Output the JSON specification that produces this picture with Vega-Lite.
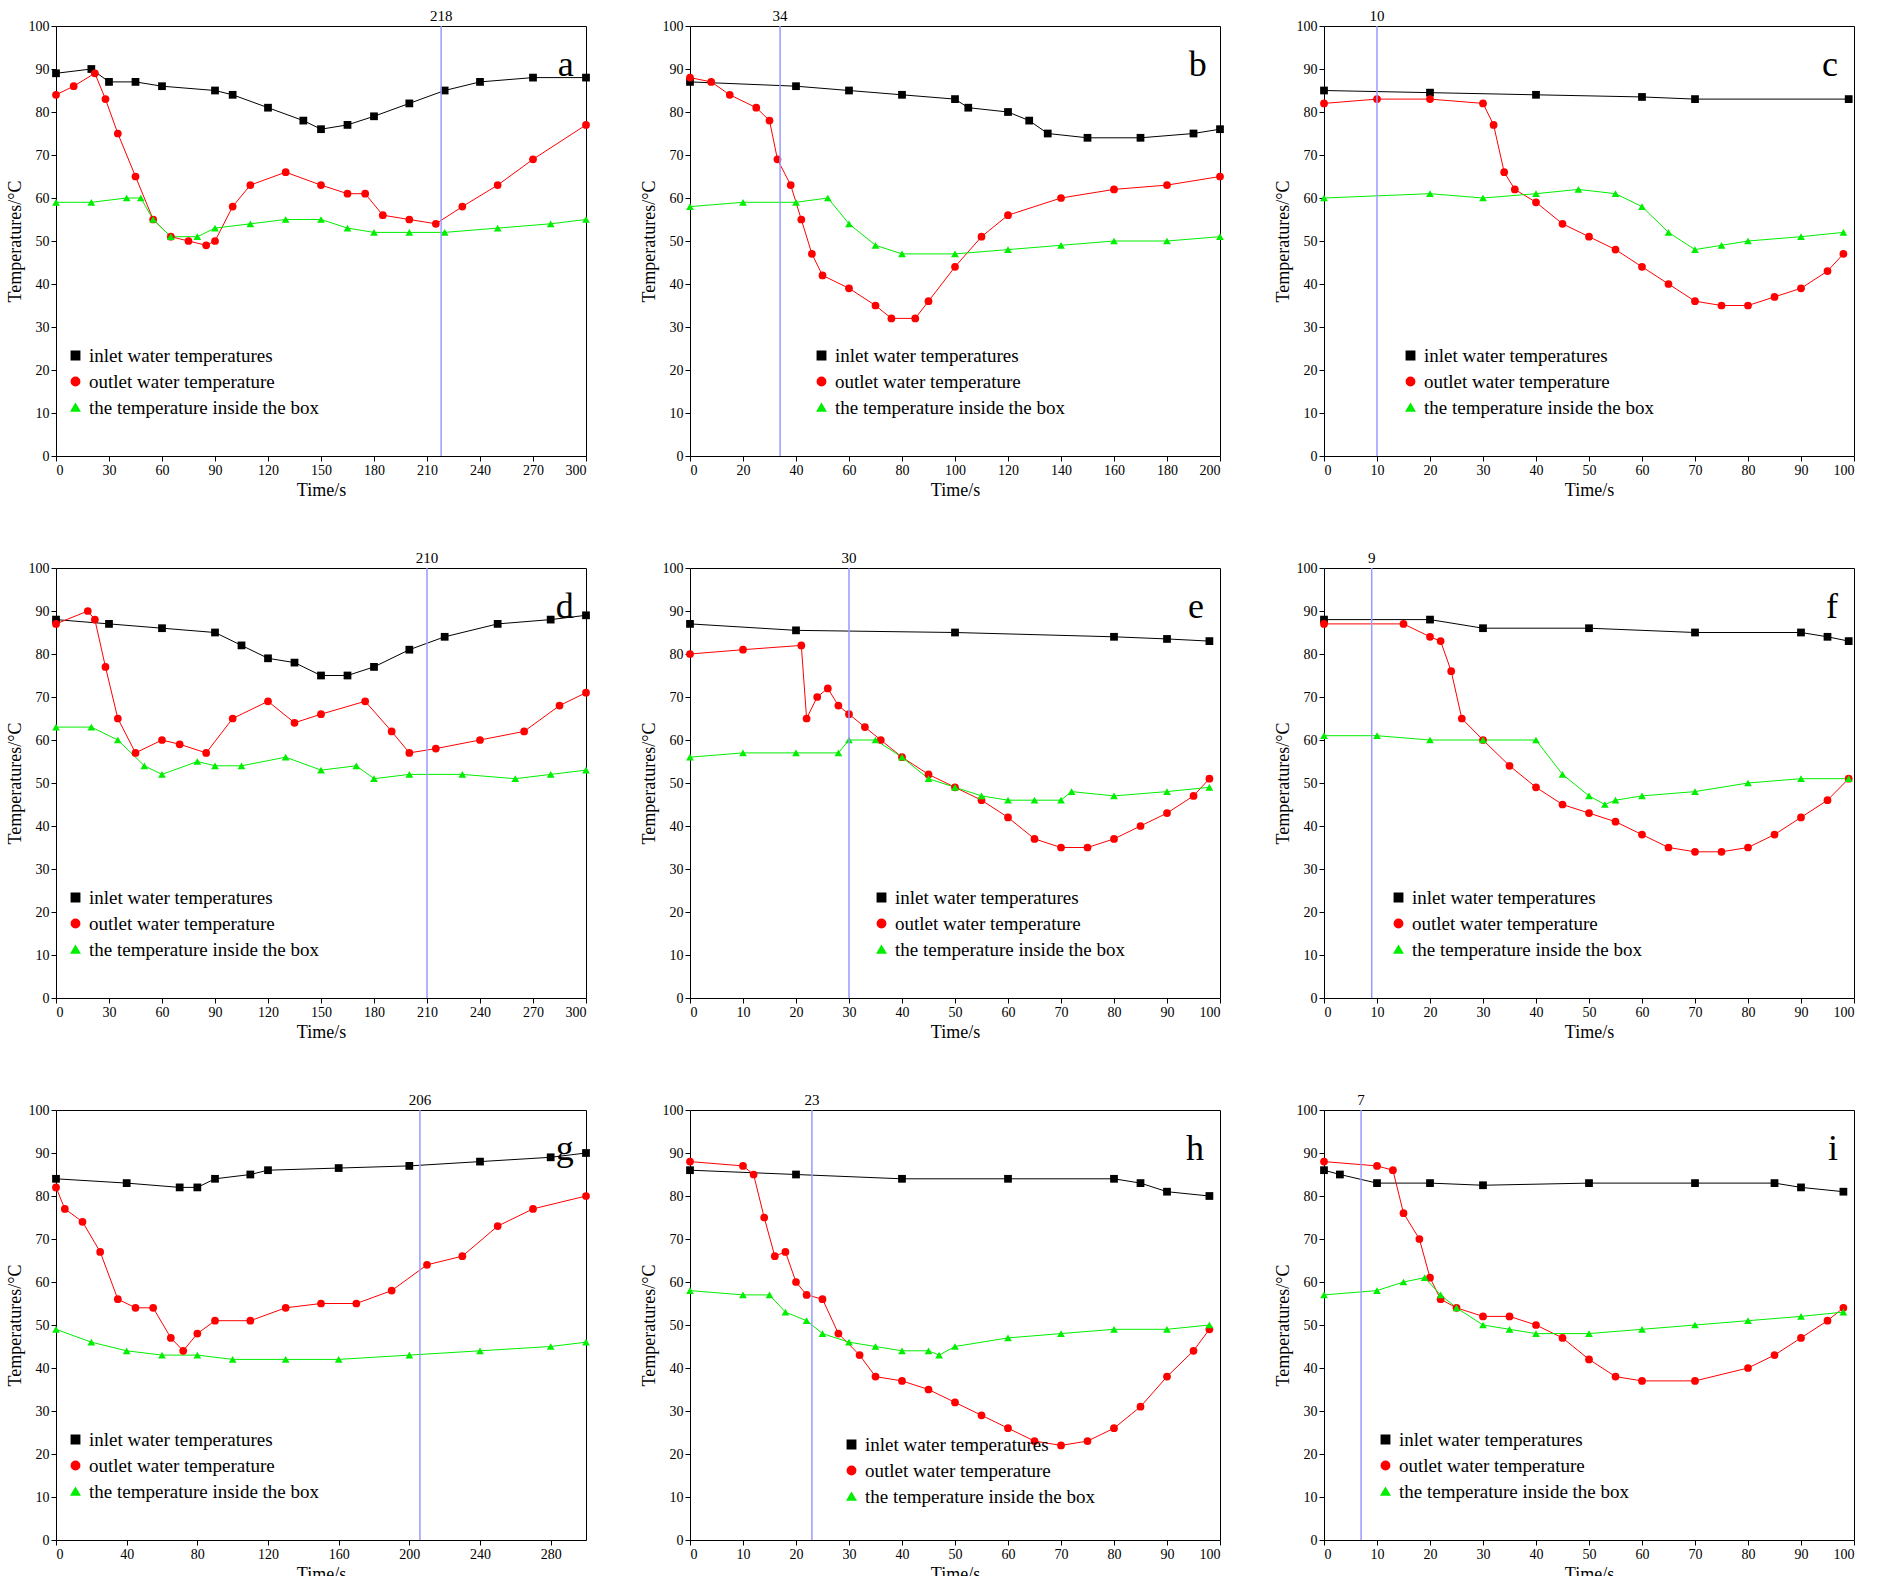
{
"$schema":"https://vega.github.io/schema/vega-lite/v6.json",
"background":"white",
"padding":{"left":5,"top":8,"right":5,"bottom":5},
"config":{"font":"Liberation Serif","view":{"stroke":"black","strokeWidth":1},
"axis":{"grid":false,"domain":false,"labelFont":"Liberation Serif","titleFont":"Liberation Serif","labelFontSize":14,"titleFontSize":18,"titleFontWeight":"normal","tickColor":"black","labelColor":"black","titleColor":"black"},
"legend":{"labelFont":"Liberation Serif","labelFontSize":19,"symbolSize":70,"rowPadding":6,"labelColor":"black","labelLimit":400}},
"spacing":{"row":50,"column":48},
"columns":3,
"resolve":{"scale":{"color":"independent","shape":"independent","x":"independent"}},
"datasets":{
"a":[{"t":0,"v":89,"s":"in"},{"t":20,"v":90,"s":"in"},{"t":30,"v":87,"s":"in"},{"t":45,"v":87,"s":"in"},{"t":60,"v":86,"s":"in"},{"t":90,"v":85,"s":"in"},{"t":100,"v":84,"s":"in"},{"t":120,"v":81,"s":"in"},{"t":140,"v":78,"s":"in"},{"t":150,"v":76,"s":"in"},{"t":165,"v":77,"s":"in"},{"t":180,"v":79,"s":"in"},{"t":200,"v":82,"s":"in"},{"t":220,"v":85,"s":"in"},{"t":240,"v":87,"s":"in"},{"t":270,"v":88,"s":"in"},{"t":300,"v":88,"s":"in"},
{"t":0,"v":84,"s":"out"},{"t":10,"v":86,"s":"out"},{"t":22,"v":89,"s":"out"},{"t":28,"v":83,"s":"out"},{"t":35,"v":75,"s":"out"},{"t":45,"v":65,"s":"out"},{"t":55,"v":55,"s":"out"},{"t":65,"v":51,"s":"out"},{"t":75,"v":50,"s":"out"},{"t":85,"v":49,"s":"out"},{"t":90,"v":50,"s":"out"},{"t":100,"v":58,"s":"out"},{"t":110,"v":63,"s":"out"},{"t":130,"v":66,"s":"out"},{"t":150,"v":63,"s":"out"},{"t":165,"v":61,"s":"out"},{"t":175,"v":61,"s":"out"},{"t":185,"v":56,"s":"out"},{"t":200,"v":55,"s":"out"},{"t":215,"v":54,"s":"out"},{"t":230,"v":58,"s":"out"},{"t":250,"v":63,"s":"out"},{"t":270,"v":69,"s":"out"},{"t":300,"v":77,"s":"out"},
{"t":0,"v":59,"s":"box"},{"t":20,"v":59,"s":"box"},{"t":40,"v":60,"s":"box"},{"t":48,"v":60,"s":"box"},{"t":55,"v":55,"s":"box"},{"t":65,"v":51,"s":"box"},{"t":80,"v":51,"s":"box"},{"t":90,"v":53,"s":"box"},{"t":110,"v":54,"s":"box"},{"t":130,"v":55,"s":"box"},{"t":150,"v":55,"s":"box"},{"t":165,"v":53,"s":"box"},{"t":180,"v":52,"s":"box"},{"t":200,"v":52,"s":"box"},{"t":220,"v":52,"s":"box"},{"t":250,"v":53,"s":"box"},{"t":280,"v":54,"s":"box"},{"t":300,"v":55,"s":"box"}],
"b":[{"t":0,"v":87,"s":"in"},{"t":40,"v":86,"s":"in"},{"t":60,"v":85,"s":"in"},{"t":80,"v":84,"s":"in"},{"t":100,"v":83,"s":"in"},{"t":105,"v":81,"s":"in"},{"t":120,"v":80,"s":"in"},{"t":128,"v":78,"s":"in"},{"t":135,"v":75,"s":"in"},{"t":150,"v":74,"s":"in"},{"t":170,"v":74,"s":"in"},{"t":190,"v":75,"s":"in"},{"t":200,"v":76,"s":"in"},
{"t":0,"v":88,"s":"out"},{"t":8,"v":87,"s":"out"},{"t":15,"v":84,"s":"out"},{"t":25,"v":81,"s":"out"},{"t":30,"v":78,"s":"out"},{"t":33,"v":69,"s":"out"},{"t":38,"v":63,"s":"out"},{"t":42,"v":55,"s":"out"},{"t":46,"v":47,"s":"out"},{"t":50,"v":42,"s":"out"},{"t":60,"v":39,"s":"out"},{"t":70,"v":35,"s":"out"},{"t":76,"v":32,"s":"out"},{"t":85,"v":32,"s":"out"},{"t":90,"v":36,"s":"out"},{"t":100,"v":44,"s":"out"},{"t":110,"v":51,"s":"out"},{"t":120,"v":56,"s":"out"},{"t":140,"v":60,"s":"out"},{"t":160,"v":62,"s":"out"},{"t":180,"v":63,"s":"out"},{"t":200,"v":65,"s":"out"},
{"t":0,"v":58,"s":"box"},{"t":20,"v":59,"s":"box"},{"t":40,"v":59,"s":"box"},{"t":52,"v":60,"s":"box"},{"t":60,"v":54,"s":"box"},{"t":70,"v":49,"s":"box"},{"t":80,"v":47,"s":"box"},{"t":100,"v":47,"s":"box"},{"t":120,"v":48,"s":"box"},{"t":140,"v":49,"s":"box"},{"t":160,"v":50,"s":"box"},{"t":180,"v":50,"s":"box"},{"t":200,"v":51,"s":"box"}],
"c":[{"t":0,"v":85,"s":"in"},{"t":20,"v":84.5,"s":"in"},{"t":40,"v":84,"s":"in"},{"t":60,"v":83.5,"s":"in"},{"t":70,"v":83,"s":"in"},{"t":99,"v":83,"s":"in"},
{"t":0,"v":82,"s":"out"},{"t":10,"v":83,"s":"out"},{"t":20,"v":83,"s":"out"},{"t":30,"v":82,"s":"out"},{"t":32,"v":77,"s":"out"},{"t":34,"v":66,"s":"out"},{"t":36,"v":62,"s":"out"},{"t":40,"v":59,"s":"out"},{"t":45,"v":54,"s":"out"},{"t":50,"v":51,"s":"out"},{"t":55,"v":48,"s":"out"},{"t":60,"v":44,"s":"out"},{"t":65,"v":40,"s":"out"},{"t":70,"v":36,"s":"out"},{"t":75,"v":35,"s":"out"},{"t":80,"v":35,"s":"out"},{"t":85,"v":37,"s":"out"},{"t":90,"v":39,"s":"out"},{"t":95,"v":43,"s":"out"},{"t":98,"v":47,"s":"out"},
{"t":0,"v":60,"s":"box"},{"t":20,"v":61,"s":"box"},{"t":30,"v":60,"s":"box"},{"t":40,"v":61,"s":"box"},{"t":48,"v":62,"s":"box"},{"t":55,"v":61,"s":"box"},{"t":60,"v":58,"s":"box"},{"t":65,"v":52,"s":"box"},{"t":70,"v":48,"s":"box"},{"t":75,"v":49,"s":"box"},{"t":80,"v":50,"s":"box"},{"t":90,"v":51,"s":"box"},{"t":98,"v":52,"s":"box"}],
"d":[{"t":0,"v":88,"s":"in"},{"t":30,"v":87,"s":"in"},{"t":60,"v":86,"s":"in"},{"t":90,"v":85,"s":"in"},{"t":105,"v":82,"s":"in"},{"t":120,"v":79,"s":"in"},{"t":135,"v":78,"s":"in"},{"t":150,"v":75,"s":"in"},{"t":165,"v":75,"s":"in"},{"t":180,"v":77,"s":"in"},{"t":200,"v":81,"s":"in"},{"t":220,"v":84,"s":"in"},{"t":250,"v":87,"s":"in"},{"t":280,"v":88,"s":"in"},{"t":300,"v":89,"s":"in"},
{"t":0,"v":87,"s":"out"},{"t":18,"v":90,"s":"out"},{"t":22,"v":88,"s":"out"},{"t":28,"v":77,"s":"out"},{"t":35,"v":65,"s":"out"},{"t":45,"v":57,"s":"out"},{"t":60,"v":60,"s":"out"},{"t":70,"v":59,"s":"out"},{"t":85,"v":57,"s":"out"},{"t":100,"v":65,"s":"out"},{"t":120,"v":69,"s":"out"},{"t":135,"v":64,"s":"out"},{"t":150,"v":66,"s":"out"},{"t":175,"v":69,"s":"out"},{"t":190,"v":62,"s":"out"},{"t":200,"v":57,"s":"out"},{"t":215,"v":58,"s":"out"},{"t":240,"v":60,"s":"out"},{"t":265,"v":62,"s":"out"},{"t":285,"v":68,"s":"out"},{"t":300,"v":71,"s":"out"},
{"t":0,"v":63,"s":"box"},{"t":20,"v":63,"s":"box"},{"t":35,"v":60,"s":"box"},{"t":50,"v":54,"s":"box"},{"t":60,"v":52,"s":"box"},{"t":80,"v":55,"s":"box"},{"t":90,"v":54,"s":"box"},{"t":105,"v":54,"s":"box"},{"t":130,"v":56,"s":"box"},{"t":150,"v":53,"s":"box"},{"t":170,"v":54,"s":"box"},{"t":180,"v":51,"s":"box"},{"t":200,"v":52,"s":"box"},{"t":230,"v":52,"s":"box"},{"t":260,"v":51,"s":"box"},{"t":280,"v":52,"s":"box"},{"t":300,"v":53,"s":"box"}],
"e":[{"t":0,"v":87,"s":"in"},{"t":20,"v":85.5,"s":"in"},{"t":50,"v":85,"s":"in"},{"t":80,"v":84,"s":"in"},{"t":90,"v":83.5,"s":"in"},{"t":98,"v":83,"s":"in"},
{"t":0,"v":80,"s":"out"},{"t":10,"v":81,"s":"out"},{"t":21,"v":82,"s":"out"},{"t":22,"v":65,"s":"out"},{"t":24,"v":70,"s":"out"},{"t":26,"v":72,"s":"out"},{"t":28,"v":68,"s":"out"},{"t":30,"v":66,"s":"out"},{"t":33,"v":63,"s":"out"},{"t":36,"v":60,"s":"out"},{"t":40,"v":56,"s":"out"},{"t":45,"v":52,"s":"out"},{"t":50,"v":49,"s":"out"},{"t":55,"v":46,"s":"out"},{"t":60,"v":42,"s":"out"},{"t":65,"v":37,"s":"out"},{"t":70,"v":35,"s":"out"},{"t":75,"v":35,"s":"out"},{"t":80,"v":37,"s":"out"},{"t":85,"v":40,"s":"out"},{"t":90,"v":43,"s":"out"},{"t":95,"v":47,"s":"out"},{"t":98,"v":51,"s":"out"},
{"t":0,"v":56,"s":"box"},{"t":10,"v":57,"s":"box"},{"t":20,"v":57,"s":"box"},{"t":28,"v":57,"s":"box"},{"t":30,"v":60,"s":"box"},{"t":35,"v":60,"s":"box"},{"t":40,"v":56,"s":"box"},{"t":45,"v":51,"s":"box"},{"t":50,"v":49,"s":"box"},{"t":55,"v":47,"s":"box"},{"t":60,"v":46,"s":"box"},{"t":65,"v":46,"s":"box"},{"t":70,"v":46,"s":"box"},{"t":72,"v":48,"s":"box"},{"t":80,"v":47,"s":"box"},{"t":90,"v":48,"s":"box"},{"t":98,"v":49,"s":"box"}],
"f":[{"t":0,"v":88,"s":"in"},{"t":20,"v":88,"s":"in"},{"t":30,"v":86,"s":"in"},{"t":50,"v":86,"s":"in"},{"t":70,"v":85,"s":"in"},{"t":90,"v":85,"s":"in"},{"t":95,"v":84,"s":"in"},{"t":99,"v":83,"s":"in"},
{"t":0,"v":87,"s":"out"},{"t":15,"v":87,"s":"out"},{"t":20,"v":84,"s":"out"},{"t":22,"v":83,"s":"out"},{"t":24,"v":76,"s":"out"},{"t":26,"v":65,"s":"out"},{"t":30,"v":60,"s":"out"},{"t":35,"v":54,"s":"out"},{"t":40,"v":49,"s":"out"},{"t":45,"v":45,"s":"out"},{"t":50,"v":43,"s":"out"},{"t":55,"v":41,"s":"out"},{"t":60,"v":38,"s":"out"},{"t":65,"v":35,"s":"out"},{"t":70,"v":34,"s":"out"},{"t":75,"v":34,"s":"out"},{"t":80,"v":35,"s":"out"},{"t":85,"v":38,"s":"out"},{"t":90,"v":42,"s":"out"},{"t":95,"v":46,"s":"out"},{"t":99,"v":51,"s":"out"},
{"t":0,"v":61,"s":"box"},{"t":10,"v":61,"s":"box"},{"t":20,"v":60,"s":"box"},{"t":30,"v":60,"s":"box"},{"t":40,"v":60,"s":"box"},{"t":45,"v":52,"s":"box"},{"t":50,"v":47,"s":"box"},{"t":53,"v":45,"s":"box"},{"t":55,"v":46,"s":"box"},{"t":60,"v":47,"s":"box"},{"t":70,"v":48,"s":"box"},{"t":80,"v":50,"s":"box"},{"t":90,"v":51,"s":"box"},{"t":99,"v":51,"s":"box"}],
"g":[{"t":0,"v":84,"s":"in"},{"t":40,"v":83,"s":"in"},{"t":70,"v":82,"s":"in"},{"t":80,"v":82,"s":"in"},{"t":90,"v":84,"s":"in"},{"t":110,"v":85,"s":"in"},{"t":120,"v":86,"s":"in"},{"t":160,"v":86.5,"s":"in"},{"t":200,"v":87,"s":"in"},{"t":240,"v":88,"s":"in"},{"t":280,"v":89,"s":"in"},{"t":300,"v":90,"s":"in"},
{"t":0,"v":82,"s":"out"},{"t":5,"v":77,"s":"out"},{"t":15,"v":74,"s":"out"},{"t":25,"v":67,"s":"out"},{"t":35,"v":56,"s":"out"},{"t":45,"v":54,"s":"out"},{"t":55,"v":54,"s":"out"},{"t":65,"v":47,"s":"out"},{"t":72,"v":44,"s":"out"},{"t":80,"v":48,"s":"out"},{"t":90,"v":51,"s":"out"},{"t":110,"v":51,"s":"out"},{"t":130,"v":54,"s":"out"},{"t":150,"v":55,"s":"out"},{"t":170,"v":55,"s":"out"},{"t":190,"v":58,"s":"out"},{"t":210,"v":64,"s":"out"},{"t":230,"v":66,"s":"out"},{"t":250,"v":73,"s":"out"},{"t":270,"v":77,"s":"out"},{"t":300,"v":80,"s":"out"},
{"t":0,"v":49,"s":"box"},{"t":20,"v":46,"s":"box"},{"t":40,"v":44,"s":"box"},{"t":60,"v":43,"s":"box"},{"t":80,"v":43,"s":"box"},{"t":100,"v":42,"s":"box"},{"t":130,"v":42,"s":"box"},{"t":160,"v":42,"s":"box"},{"t":200,"v":43,"s":"box"},{"t":240,"v":44,"s":"box"},{"t":280,"v":45,"s":"box"},{"t":300,"v":46,"s":"box"}],
"h":[{"t":0,"v":86,"s":"in"},{"t":20,"v":85,"s":"in"},{"t":40,"v":84,"s":"in"},{"t":60,"v":84,"s":"in"},{"t":80,"v":84,"s":"in"},{"t":85,"v":83,"s":"in"},{"t":90,"v":81,"s":"in"},{"t":98,"v":80,"s":"in"},
{"t":0,"v":88,"s":"out"},{"t":10,"v":87,"s":"out"},{"t":12,"v":85,"s":"out"},{"t":14,"v":75,"s":"out"},{"t":16,"v":66,"s":"out"},{"t":18,"v":67,"s":"out"},{"t":20,"v":60,"s":"out"},{"t":22,"v":57,"s":"out"},{"t":25,"v":56,"s":"out"},{"t":28,"v":48,"s":"out"},{"t":32,"v":43,"s":"out"},{"t":35,"v":38,"s":"out"},{"t":40,"v":37,"s":"out"},{"t":45,"v":35,"s":"out"},{"t":50,"v":32,"s":"out"},{"t":55,"v":29,"s":"out"},{"t":60,"v":26,"s":"out"},{"t":65,"v":23,"s":"out"},{"t":70,"v":22,"s":"out"},{"t":75,"v":23,"s":"out"},{"t":80,"v":26,"s":"out"},{"t":85,"v":31,"s":"out"},{"t":90,"v":38,"s":"out"},{"t":95,"v":44,"s":"out"},{"t":98,"v":49,"s":"out"},
{"t":0,"v":58,"s":"box"},{"t":10,"v":57,"s":"box"},{"t":15,"v":57,"s":"box"},{"t":18,"v":53,"s":"box"},{"t":22,"v":51,"s":"box"},{"t":25,"v":48,"s":"box"},{"t":30,"v":46,"s":"box"},{"t":35,"v":45,"s":"box"},{"t":40,"v":44,"s":"box"},{"t":45,"v":44,"s":"box"},{"t":47,"v":43,"s":"box"},{"t":50,"v":45,"s":"box"},{"t":60,"v":47,"s":"box"},{"t":70,"v":48,"s":"box"},{"t":80,"v":49,"s":"box"},{"t":90,"v":49,"s":"box"},{"t":98,"v":50,"s":"box"}],
"i":[{"t":0,"v":86,"s":"in"},{"t":3,"v":85,"s":"in"},{"t":10,"v":83,"s":"in"},{"t":20,"v":83,"s":"in"},{"t":30,"v":82.5,"s":"in"},{"t":50,"v":83,"s":"in"},{"t":70,"v":83,"s":"in"},{"t":85,"v":83,"s":"in"},{"t":90,"v":82,"s":"in"},{"t":98,"v":81,"s":"in"},
{"t":0,"v":88,"s":"out"},{"t":10,"v":87,"s":"out"},{"t":13,"v":86,"s":"out"},{"t":15,"v":76,"s":"out"},{"t":18,"v":70,"s":"out"},{"t":20,"v":61,"s":"out"},{"t":22,"v":56,"s":"out"},{"t":25,"v":54,"s":"out"},{"t":30,"v":52,"s":"out"},{"t":35,"v":52,"s":"out"},{"t":40,"v":50,"s":"out"},{"t":45,"v":47,"s":"out"},{"t":50,"v":42,"s":"out"},{"t":55,"v":38,"s":"out"},{"t":60,"v":37,"s":"out"},{"t":70,"v":37,"s":"out"},{"t":80,"v":40,"s":"out"},{"t":85,"v":43,"s":"out"},{"t":90,"v":47,"s":"out"},{"t":95,"v":51,"s":"out"},{"t":98,"v":54,"s":"out"},
{"t":0,"v":57,"s":"box"},{"t":10,"v":58,"s":"box"},{"t":15,"v":60,"s":"box"},{"t":19,"v":61,"s":"box"},{"t":22,"v":57,"s":"box"},{"t":25,"v":54,"s":"box"},{"t":30,"v":50,"s":"box"},{"t":35,"v":49,"s":"box"},{"t":40,"v":48,"s":"box"},{"t":50,"v":48,"s":"box"},{"t":60,"v":49,"s":"box"},{"t":70,"v":50,"s":"box"},{"t":80,"v":51,"s":"box"},{"t":90,"v":52,"s":"box"},{"t":98,"v":53,"s":"box"}]
},
"concat":[
{"width":530,"height":430,"layer":[
{"data":{"name":"a"},"mark":{"type":"line","strokeWidth":1},"encoding":{"x":{"field":"t","type":"quantitative","scale":{"domain":[0,300],"nice":false},"axis":{"values":[0,30,60,90,120,150,180,210,240,270,300],"title":"Time/s"}},"y":{"field":"v","type":"quantitative","scale":{"domain":[0,100]},"axis":{"values":[0,10,20,30,40,50,60,70,80,90,100],"title":"Temperatures/°C"}},"color":{"field":"s","type":"nominal","scale":{"domain":["in","out","box"],"range":["black","#ff0000","#00ee00"]},"legend":{"orient":"none","legendX":10,"legendY":320,"title":null,"labelExpr":"datum.label=='in'?'inlet water temperatures':datum.label=='out'?'outlet water temperature':'the temperature inside the box'"}}}},
{"data":{"name":"a"},"mark":{"type":"point","filled":true,"size":60,"opacity":1},"encoding":{"x":{"field":"t","type":"quantitative"},"y":{"field":"v","type":"quantitative"},"color":{"field":"s","type":"nominal","scale":{"domain":["in","out","box"],"range":["black","#ff0000","#00ee00"]},"legend":{"orient":"none","legendX":10,"legendY":320,"title":null,"labelExpr":"datum.label=='in'?'inlet water temperatures':datum.label=='out'?'outlet water temperature':'the temperature inside the box'"}},"shape":{"field":"s","type":"nominal","scale":{"domain":["in","out","box"],"range":["square","circle","triangle-up"]},"legend":{"orient":"none","legendX":10,"legendY":320,"title":null,"labelExpr":"datum.label=='in'?'inlet water temperatures':datum.label=='out'?'outlet water temperature':'the temperature inside the box'"}}}},
{"data":{"values":[{"t":218}]},"mark":{"type":"rule","color":"#9999ff","strokeWidth":1.5},"encoding":{"x":{"field":"t","type":"quantitative"}}},
{"data":{"values":[{"t":218}]},"mark":{"type":"text","dy":-2,"fontSize":15,"baseline":"bottom"},"encoding":{"x":{"field":"t","type":"quantitative"},"y":{"datum":100},"text":{"field":"t"}}},
{"data":{"values":[{"p":"a","t":293}]},"mark":{"type":"text","fontSize":36,"align":"right","baseline":"middle"},"encoding":{"x":{"field":"t","type":"quantitative"},"y":{"datum":91},"text":{"field":"p"}}}]},
{"width":530,"height":430,"layer":[
{"data":{"name":"b"},"mark":{"type":"line","strokeWidth":1},"encoding":{"x":{"field":"t","type":"quantitative","scale":{"domain":[0,200],"nice":false},"axis":{"values":[0,20,40,60,80,100,120,140,160,180,200],"title":"Time/s"}},"y":{"field":"v","type":"quantitative","scale":{"domain":[0,100]},"axis":{"values":[0,10,20,30,40,50,60,70,80,90,100],"title":"Temperatures/°C"}},"color":{"field":"s","type":"nominal","scale":{"domain":["in","out","box"],"range":["black","#ff0000","#00ee00"]},"legend":{"orient":"none","legendX":122,"legendY":320,"title":null,"labelExpr":"datum.label=='in'?'inlet water temperatures':datum.label=='out'?'outlet water temperature':'the temperature inside the box'"}}}},
{"data":{"name":"b"},"mark":{"type":"point","filled":true,"size":60,"opacity":1},"encoding":{"x":{"field":"t","type":"quantitative"},"y":{"field":"v","type":"quantitative"},"color":{"field":"s","type":"nominal","scale":{"domain":["in","out","box"],"range":["black","#ff0000","#00ee00"]},"legend":{"orient":"none","legendX":122,"legendY":320,"title":null,"labelExpr":"datum.label=='in'?'inlet water temperatures':datum.label=='out'?'outlet water temperature':'the temperature inside the box'"}},"shape":{"field":"s","type":"nominal","scale":{"domain":["in","out","box"],"range":["square","circle","triangle-up"]},"legend":{"orient":"none","legendX":122,"legendY":320,"title":null,"labelExpr":"datum.label=='in'?'inlet water temperatures':datum.label=='out'?'outlet water temperature':'the temperature inside the box'"}}}},
{"data":{"values":[{"t":34}]},"mark":{"type":"rule","color":"#9999ff","strokeWidth":1.5},"encoding":{"x":{"field":"t","type":"quantitative"}}},
{"data":{"values":[{"t":34}]},"mark":{"type":"text","dy":-2,"fontSize":15,"baseline":"bottom"},"encoding":{"x":{"field":"t","type":"quantitative"},"y":{"datum":100},"text":{"field":"t"}}},
{"data":{"values":[{"p":"b","t":195}]},"mark":{"type":"text","fontSize":36,"align":"right","baseline":"middle"},"encoding":{"x":{"field":"t","type":"quantitative"},"y":{"datum":91},"text":{"field":"p"}}}]},
{"width":530,"height":430,"layer":[
{"data":{"name":"c"},"mark":{"type":"line","strokeWidth":1},"encoding":{"x":{"field":"t","type":"quantitative","scale":{"domain":[0,100],"nice":false},"axis":{"values":[0,10,20,30,40,50,60,70,80,90,100],"title":"Time/s"}},"y":{"field":"v","type":"quantitative","scale":{"domain":[0,100]},"axis":{"values":[0,10,20,30,40,50,60,70,80,90,100],"title":"Temperatures/°C"}},"color":{"field":"s","type":"nominal","scale":{"domain":["in","out","box"],"range":["black","#ff0000","#00ee00"]},"legend":{"orient":"none","legendX":77,"legendY":320,"title":null,"labelExpr":"datum.label=='in'?'inlet water temperatures':datum.label=='out'?'outlet water temperature':'the temperature inside the box'"}}}},
{"data":{"name":"c"},"mark":{"type":"point","filled":true,"size":60,"opacity":1},"encoding":{"x":{"field":"t","type":"quantitative"},"y":{"field":"v","type":"quantitative"},"color":{"field":"s","type":"nominal","scale":{"domain":["in","out","box"],"range":["black","#ff0000","#00ee00"]},"legend":{"orient":"none","legendX":77,"legendY":320,"title":null,"labelExpr":"datum.label=='in'?'inlet water temperatures':datum.label=='out'?'outlet water temperature':'the temperature inside the box'"}},"shape":{"field":"s","type":"nominal","scale":{"domain":["in","out","box"],"range":["square","circle","triangle-up"]},"legend":{"orient":"none","legendX":77,"legendY":320,"title":null,"labelExpr":"datum.label=='in'?'inlet water temperatures':datum.label=='out'?'outlet water temperature':'the temperature inside the box'"}}}},
{"data":{"values":[{"t":10}]},"mark":{"type":"rule","color":"#9999ff","strokeWidth":1.5},"encoding":{"x":{"field":"t","type":"quantitative"}}},
{"data":{"values":[{"t":10}]},"mark":{"type":"text","dy":-2,"fontSize":15,"baseline":"bottom"},"encoding":{"x":{"field":"t","type":"quantitative"},"y":{"datum":100},"text":{"field":"t"}}},
{"data":{"values":[{"p":"c","t":97}]},"mark":{"type":"text","fontSize":36,"align":"right","baseline":"middle"},"encoding":{"x":{"field":"t","type":"quantitative"},"y":{"datum":91},"text":{"field":"p"}}}]},
{"width":530,"height":430,"layer":[
{"data":{"name":"d"},"mark":{"type":"line","strokeWidth":1},"encoding":{"x":{"field":"t","type":"quantitative","scale":{"domain":[0,300],"nice":false},"axis":{"values":[0,30,60,90,120,150,180,210,240,270,300],"title":"Time/s"}},"y":{"field":"v","type":"quantitative","scale":{"domain":[0,100]},"axis":{"values":[0,10,20,30,40,50,60,70,80,90,100],"title":"Temperatures/°C"}},"color":{"field":"s","type":"nominal","scale":{"domain":["in","out","box"],"range":["black","#ff0000","#00ee00"]},"legend":{"orient":"none","legendX":10,"legendY":320,"title":null,"labelExpr":"datum.label=='in'?'inlet water temperatures':datum.label=='out'?'outlet water temperature':'the temperature inside the box'"}}}},
{"data":{"name":"d"},"mark":{"type":"point","filled":true,"size":60,"opacity":1},"encoding":{"x":{"field":"t","type":"quantitative"},"y":{"field":"v","type":"quantitative"},"color":{"field":"s","type":"nominal","scale":{"domain":["in","out","box"],"range":["black","#ff0000","#00ee00"]},"legend":{"orient":"none","legendX":10,"legendY":320,"title":null,"labelExpr":"datum.label=='in'?'inlet water temperatures':datum.label=='out'?'outlet water temperature':'the temperature inside the box'"}},"shape":{"field":"s","type":"nominal","scale":{"domain":["in","out","box"],"range":["square","circle","triangle-up"]},"legend":{"orient":"none","legendX":10,"legendY":320,"title":null,"labelExpr":"datum.label=='in'?'inlet water temperatures':datum.label=='out'?'outlet water temperature':'the temperature inside the box'"}}}},
{"data":{"values":[{"t":210}]},"mark":{"type":"rule","color":"#9999ff","strokeWidth":1.5},"encoding":{"x":{"field":"t","type":"quantitative"}}},
{"data":{"values":[{"t":210}]},"mark":{"type":"text","dy":-2,"fontSize":15,"baseline":"bottom"},"encoding":{"x":{"field":"t","type":"quantitative"},"y":{"datum":100},"text":{"field":"t"}}},
{"data":{"values":[{"p":"d","t":293}]},"mark":{"type":"text","fontSize":36,"align":"right","baseline":"middle"},"encoding":{"x":{"field":"t","type":"quantitative"},"y":{"datum":91},"text":{"field":"p"}}}]},
{"width":530,"height":430,"layer":[
{"data":{"name":"e"},"mark":{"type":"line","strokeWidth":1},"encoding":{"x":{"field":"t","type":"quantitative","scale":{"domain":[0,100],"nice":false},"axis":{"values":[0,10,20,30,40,50,60,70,80,90,100],"title":"Time/s"}},"y":{"field":"v","type":"quantitative","scale":{"domain":[0,100]},"axis":{"values":[0,10,20,30,40,50,60,70,80,90,100],"title":"Temperatures/°C"}},"color":{"field":"s","type":"nominal","scale":{"domain":["in","out","box"],"range":["black","#ff0000","#00ee00"]},"legend":{"orient":"none","legendX":182,"legendY":320,"title":null,"labelExpr":"datum.label=='in'?'inlet water temperatures':datum.label=='out'?'outlet water temperature':'the temperature inside the box'"}}}},
{"data":{"name":"e"},"mark":{"type":"point","filled":true,"size":60,"opacity":1},"encoding":{"x":{"field":"t","type":"quantitative"},"y":{"field":"v","type":"quantitative"},"color":{"field":"s","type":"nominal","scale":{"domain":["in","out","box"],"range":["black","#ff0000","#00ee00"]},"legend":{"orient":"none","legendX":182,"legendY":320,"title":null,"labelExpr":"datum.label=='in'?'inlet water temperatures':datum.label=='out'?'outlet water temperature':'the temperature inside the box'"}},"shape":{"field":"s","type":"nominal","scale":{"domain":["in","out","box"],"range":["square","circle","triangle-up"]},"legend":{"orient":"none","legendX":182,"legendY":320,"title":null,"labelExpr":"datum.label=='in'?'inlet water temperatures':datum.label=='out'?'outlet water temperature':'the temperature inside the box'"}}}},
{"data":{"values":[{"t":30}]},"mark":{"type":"rule","color":"#9999ff","strokeWidth":1.5},"encoding":{"x":{"field":"t","type":"quantitative"}}},
{"data":{"values":[{"t":30}]},"mark":{"type":"text","dy":-2,"fontSize":15,"baseline":"bottom"},"encoding":{"x":{"field":"t","type":"quantitative"},"y":{"datum":100},"text":{"field":"t"}}},
{"data":{"values":[{"p":"e","t":97}]},"mark":{"type":"text","fontSize":36,"align":"right","baseline":"middle"},"encoding":{"x":{"field":"t","type":"quantitative"},"y":{"datum":91},"text":{"field":"p"}}}]},
{"width":530,"height":430,"layer":[
{"data":{"name":"f"},"mark":{"type":"line","strokeWidth":1},"encoding":{"x":{"field":"t","type":"quantitative","scale":{"domain":[0,100],"nice":false},"axis":{"values":[0,10,20,30,40,50,60,70,80,90,100],"title":"Time/s"}},"y":{"field":"v","type":"quantitative","scale":{"domain":[0,100]},"axis":{"values":[0,10,20,30,40,50,60,70,80,90,100],"title":"Temperatures/°C"}},"color":{"field":"s","type":"nominal","scale":{"domain":["in","out","box"],"range":["black","#ff0000","#00ee00"]},"legend":{"orient":"none","legendX":65,"legendY":320,"title":null,"labelExpr":"datum.label=='in'?'inlet water temperatures':datum.label=='out'?'outlet water temperature':'the temperature inside the box'"}}}},
{"data":{"name":"f"},"mark":{"type":"point","filled":true,"size":60,"opacity":1},"encoding":{"x":{"field":"t","type":"quantitative"},"y":{"field":"v","type":"quantitative"},"color":{"field":"s","type":"nominal","scale":{"domain":["in","out","box"],"range":["black","#ff0000","#00ee00"]},"legend":{"orient":"none","legendX":65,"legendY":320,"title":null,"labelExpr":"datum.label=='in'?'inlet water temperatures':datum.label=='out'?'outlet water temperature':'the temperature inside the box'"}},"shape":{"field":"s","type":"nominal","scale":{"domain":["in","out","box"],"range":["square","circle","triangle-up"]},"legend":{"orient":"none","legendX":65,"legendY":320,"title":null,"labelExpr":"datum.label=='in'?'inlet water temperatures':datum.label=='out'?'outlet water temperature':'the temperature inside the box'"}}}},
{"data":{"values":[{"t":9}]},"mark":{"type":"rule","color":"#9999ff","strokeWidth":1.5},"encoding":{"x":{"field":"t","type":"quantitative"}}},
{"data":{"values":[{"t":9}]},"mark":{"type":"text","dy":-2,"fontSize":15,"baseline":"bottom"},"encoding":{"x":{"field":"t","type":"quantitative"},"y":{"datum":100},"text":{"field":"t"}}},
{"data":{"values":[{"p":"f","t":97}]},"mark":{"type":"text","fontSize":36,"align":"right","baseline":"middle"},"encoding":{"x":{"field":"t","type":"quantitative"},"y":{"datum":91},"text":{"field":"p"}}}]},
{"width":530,"height":430,"layer":[
{"data":{"name":"g"},"mark":{"type":"line","strokeWidth":1},"encoding":{"x":{"field":"t","type":"quantitative","scale":{"domain":[0,300],"nice":false},"axis":{"values":[0,20,40,60,80,100,120,140,160,180,200,220,240,260,280,300],"title":"Time/s"}},"y":{"field":"v","type":"quantitative","scale":{"domain":[0,100]},"axis":{"values":[0,10,20,30,40,50,60,70,80,90,100],"title":"Temperatures/°C"}},"color":{"field":"s","type":"nominal","scale":{"domain":["in","out","box"],"range":["black","#ff0000","#00ee00"]},"legend":{"orient":"none","legendX":10,"legendY":320,"title":null,"labelExpr":"datum.label=='in'?'inlet water temperatures':datum.label=='out'?'outlet water temperature':'the temperature inside the box'"}}}},
{"data":{"name":"g"},"mark":{"type":"point","filled":true,"size":60,"opacity":1},"encoding":{"x":{"field":"t","type":"quantitative"},"y":{"field":"v","type":"quantitative"},"color":{"field":"s","type":"nominal","scale":{"domain":["in","out","box"],"range":["black","#ff0000","#00ee00"]},"legend":{"orient":"none","legendX":10,"legendY":320,"title":null,"labelExpr":"datum.label=='in'?'inlet water temperatures':datum.label=='out'?'outlet water temperature':'the temperature inside the box'"}},"shape":{"field":"s","type":"nominal","scale":{"domain":["in","out","box"],"range":["square","circle","triangle-up"]},"legend":{"orient":"none","legendX":10,"legendY":320,"title":null,"labelExpr":"datum.label=='in'?'inlet water temperatures':datum.label=='out'?'outlet water temperature':'the temperature inside the box'"}}}},
{"data":{"values":[{"t":206}]},"mark":{"type":"rule","color":"#9999ff","strokeWidth":1.5},"encoding":{"x":{"field":"t","type":"quantitative"}}},
{"data":{"values":[{"t":206}]},"mark":{"type":"text","dy":-2,"fontSize":15,"baseline":"bottom"},"encoding":{"x":{"field":"t","type":"quantitative"},"y":{"datum":100},"text":{"field":"t"}}},
{"data":{"values":[{"p":"g","t":293}]},"mark":{"type":"text","fontSize":36,"align":"right","baseline":"middle"},"encoding":{"x":{"field":"t","type":"quantitative"},"y":{"datum":91},"text":{"field":"p"}}}]},
{"width":530,"height":430,"layer":[
{"data":{"name":"h"},"mark":{"type":"line","strokeWidth":1},"encoding":{"x":{"field":"t","type":"quantitative","scale":{"domain":[0,100],"nice":false},"axis":{"values":[0,10,20,30,40,50,60,70,80,90,100],"title":"Time/s"}},"y":{"field":"v","type":"quantitative","scale":{"domain":[0,100]},"axis":{"values":[0,10,20,30,40,50,60,70,80,90,100],"title":"Temperatures/°C"}},"color":{"field":"s","type":"nominal","scale":{"domain":["in","out","box"],"range":["black","#ff0000","#00ee00"]},"legend":{"orient":"none","legendX":152,"legendY":325,"title":null,"labelExpr":"datum.label=='in'?'inlet water temperatures':datum.label=='out'?'outlet water temperature':'the temperature inside the box'"}}}},
{"data":{"name":"h"},"mark":{"type":"point","filled":true,"size":60,"opacity":1},"encoding":{"x":{"field":"t","type":"quantitative"},"y":{"field":"v","type":"quantitative"},"color":{"field":"s","type":"nominal","scale":{"domain":["in","out","box"],"range":["black","#ff0000","#00ee00"]},"legend":{"orient":"none","legendX":152,"legendY":325,"title":null,"labelExpr":"datum.label=='in'?'inlet water temperatures':datum.label=='out'?'outlet water temperature':'the temperature inside the box'"}},"shape":{"field":"s","type":"nominal","scale":{"domain":["in","out","box"],"range":["square","circle","triangle-up"]},"legend":{"orient":"none","legendX":152,"legendY":325,"title":null,"labelExpr":"datum.label=='in'?'inlet water temperatures':datum.label=='out'?'outlet water temperature':'the temperature inside the box'"}}}},
{"data":{"values":[{"t":23}]},"mark":{"type":"rule","color":"#9999ff","strokeWidth":1.5},"encoding":{"x":{"field":"t","type":"quantitative"}}},
{"data":{"values":[{"t":23}]},"mark":{"type":"text","dy":-2,"fontSize":15,"baseline":"bottom"},"encoding":{"x":{"field":"t","type":"quantitative"},"y":{"datum":100},"text":{"field":"t"}}},
{"data":{"values":[{"p":"h","t":97}]},"mark":{"type":"text","fontSize":36,"align":"right","baseline":"middle"},"encoding":{"x":{"field":"t","type":"quantitative"},"y":{"datum":91},"text":{"field":"p"}}}]},
{"width":530,"height":430,"layer":[
{"data":{"name":"i"},"mark":{"type":"line","strokeWidth":1},"encoding":{"x":{"field":"t","type":"quantitative","scale":{"domain":[0,100],"nice":false},"axis":{"values":[0,10,20,30,40,50,60,70,80,90,100],"title":"Time/s"}},"y":{"field":"v","type":"quantitative","scale":{"domain":[0,100]},"axis":{"values":[0,10,20,30,40,50,60,70,80,90,100],"title":"Temperatures/°C"}},"color":{"field":"s","type":"nominal","scale":{"domain":["in","out","box"],"range":["black","#ff0000","#00ee00"]},"legend":{"orient":"none","legendX":52,"legendY":320,"title":null,"labelExpr":"datum.label=='in'?'inlet water temperatures':datum.label=='out'?'outlet water temperature':'the temperature inside the box'"}}}},
{"data":{"name":"i"},"mark":{"type":"point","filled":true,"size":60,"opacity":1},"encoding":{"x":{"field":"t","type":"quantitative"},"y":{"field":"v","type":"quantitative"},"color":{"field":"s","type":"nominal","scale":{"domain":["in","out","box"],"range":["black","#ff0000","#00ee00"]},"legend":{"orient":"none","legendX":52,"legendY":320,"title":null,"labelExpr":"datum.label=='in'?'inlet water temperatures':datum.label=='out'?'outlet water temperature':'the temperature inside the box'"}},"shape":{"field":"s","type":"nominal","scale":{"domain":["in","out","box"],"range":["square","circle","triangle-up"]},"legend":{"orient":"none","legendX":52,"legendY":320,"title":null,"labelExpr":"datum.label=='in'?'inlet water temperatures':datum.label=='out'?'outlet water temperature':'the temperature inside the box'"}}}},
{"data":{"values":[{"t":7}]},"mark":{"type":"rule","color":"#9999ff","strokeWidth":1.5},"encoding":{"x":{"field":"t","type":"quantitative"}}},
{"data":{"values":[{"t":7}]},"mark":{"type":"text","dy":-2,"fontSize":15,"baseline":"bottom"},"encoding":{"x":{"field":"t","type":"quantitative"},"y":{"datum":100},"text":{"field":"t"}}},
{"data":{"values":[{"p":"i","t":97}]},"mark":{"type":"text","fontSize":36,"align":"right","baseline":"middle"},"encoding":{"x":{"field":"t","type":"quantitative"},"y":{"datum":91},"text":{"field":"p"}}}]}
]
}
